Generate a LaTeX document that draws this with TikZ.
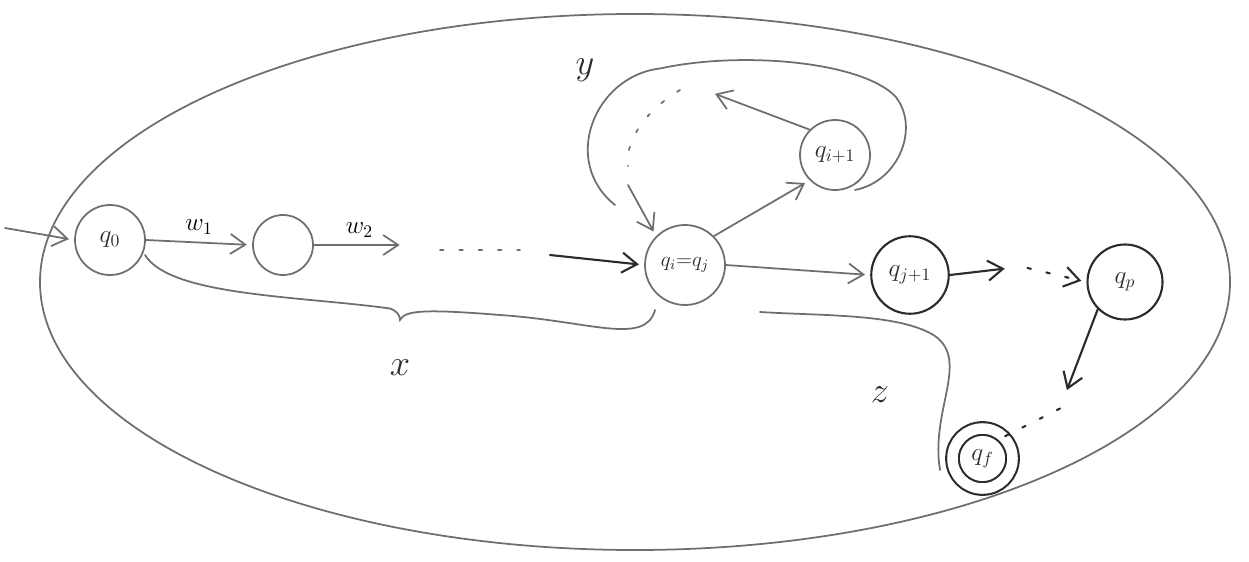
\documentclass[tikz,border=0pt]{standalone}
\usepackage{xcolor}
\usepackage{tikz}
\usetikzlibrary{calc,positioning,arrows.meta}
\pgfdeclarelayer{bg}
\pgfsetlayers{bg,main}
\definecolor{pencil}{HTML}{6E6E6E}
\definecolor{ink}{HTML}{2B2B2B}

\begin{document}
\begin{tikzpicture}[
  x=1cm,
  y=1cm,
  every node/.style={
    align=center,
    inner sep=2pt,
    font=\Large
  },
  stroke/.style={
    draw=pencil,
    line width=1.0pt,
    line cap=round
  },
  edge/.style={
    stroke,
    -{Straight Barb[length=3mm,width=4mm]},
    shorten >=3pt
  },
  darkedge/.style={
    edge,
    draw=ink,
    line width=1.2pt
  },
  dots/.style={
    stroke,
    dash pattern=on 2pt off 9pt
  },
  state/.style={
    circle,
    draw=pencil,
    line width=1.0pt,
    text=ink,
    minimum size=1.4cm
  },
  darkstate/.style={
    state,
    draw=ink,
    line width=1.2pt
  },
  part/.style={
    draw=none,
    text=ink,
    font=\huge
  }
]

\path[use as bounding box] (0,0) rectangle (24.98,11.22);

% Outer boundary
\draw[stroke] (12.7,5.58) ellipse [x radius=11.9, y radius=5.36];

% States
\node[state] (q0) at (2.2,6.42) {$q_0$};
\node[state, minimum size=1.2cm] (s1) at (5.66,6.32) {};
\node[state, minimum size=1.6cm, font=\large] (qi) at (13.7,5.92) {$q_i{=}q_j$};
\node[state] (qi1) at (16.7,8.12) {$q_{i+1}$};
\node[darkstate, minimum size=1.55cm] (qj1) at (18.2,5.72) {$q_{j+1}$};
\node[darkstate, minimum size=1.5cm] (qp) at (22.5,5.58) {$q_p$};
\node[darkstate, double, double distance=6pt, minimum size=1.2cm] (qf) at (19.65,2.05) {$q_f$};

% Free ends
\coordinate (start) at (0.1,6.66);
\coordinate (w2end) at (8.1,6.32);
\coordinate (gapa) at (8.8,6.22);
\coordinate (gapb) at (10.4,6.22);
\coordinate (gapc) at (11.0,6.12);
\coordinate (ytop) at (14.2,9.38);
\coordinate (ydot) at (13.6,9.42);
\coordinate (ymid) at (12.56,7.52);
\coordinate (jend) at (20.2,5.86);
\coordinate (jdot) at (20.55,5.86);
\coordinate (pend) at (21.3,3.32);
\coordinate (pdot) at (21.2,3.05);

% Prefix x
\draw[edge] (start) -- (q0.west);
\draw[edge] (q0.east) -- node[above=2pt] {$w_1$} (s1.west);
\draw[edge] (s1.east) -- node[above=2pt] {$w_2$} (w2end);
\draw[dots] (gapa) -- (gapb);
\draw[darkedge] (gapc) -- (qi.west);

% Loop y
\draw[edge] (qi.north east) -- (qi1.south west);
\draw[edge] (qi1.north west) -- (ytop);
\draw[dots] (ydot) .. controls (12.9,9.0) and (12.5,8.4) .. (12.56,7.9);
\draw[edge] (ymid) -- (qi.north west);

% Suffix z
\draw[edge] (qi.east) -- (qj1.west);
\draw[darkedge] (qj1.east) -- (jend);
\draw[dots, -{Straight Barb[length=3mm,width=4mm]}, draw=ink, line width=1.2pt, shorten >=3pt] (jdot) -- (qp.west);
\draw[darkedge] (qp.south west) -- (pend);
\draw[dots, draw=ink, line width=1.2pt] (pdot) -- (qf.north east);

% Braces
\draw[stroke] (2.9,6.12) .. controls (3.4,5.3) and (6.0,5.3) .. (7.8,5.05)
  .. controls (7.95,5.0) and (8.0,4.9) .. (8.0,4.82)
  .. controls (8.1,5.0) and (8.4,5.05) .. (10.0,4.92)
  .. controls (11.8,4.8) and (12.9,4.3) .. (13.1,5.02);
\node[part] (xlab) at (8.0,3.86) {$x$};

\draw[stroke] (12.3,7.12) .. controls (11.2,8.0) and (11.9,9.7) .. (13.2,9.85)
  .. controls (14.8,10.2) and (17.2,10.0) .. (17.9,9.3)
  .. controls (18.4,8.7) and (18.0,7.6) .. (17.1,7.42);
\node[part] (ylab) at (11.7,9.82) {$y$};

\draw[stroke] (15.2,4.98) .. controls (16.5,4.9) and (18.0,4.95) .. (18.7,4.5)
  .. controls (19.4,4.0) and (18.6,3.0) .. (18.8,1.82);
\node[part] (zlab) at (17.6,3.32) {$z$};

\end{tikzpicture}
\end{document}
